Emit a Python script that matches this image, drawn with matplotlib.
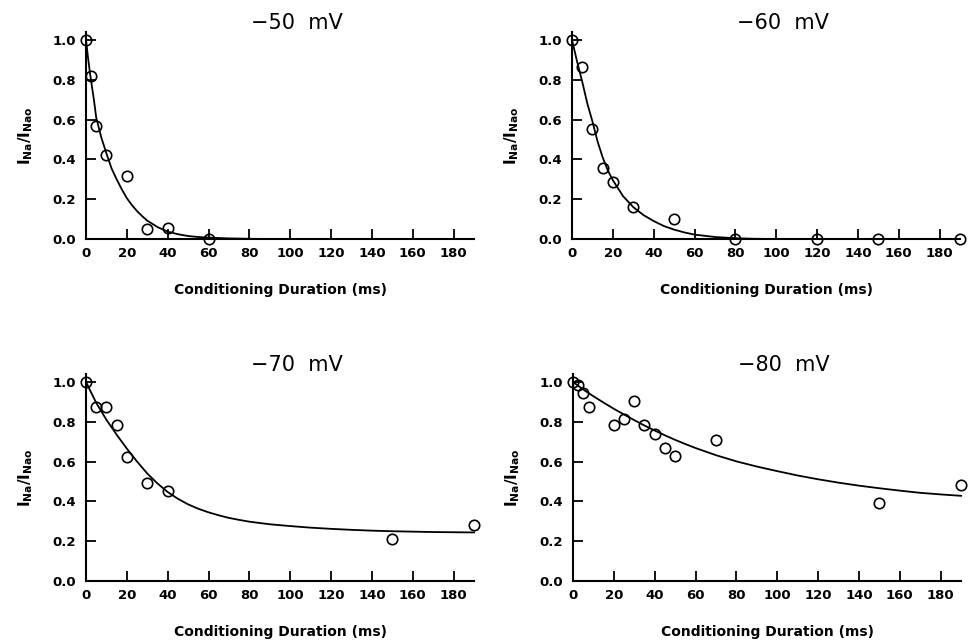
import numpy as np
import matplotlib
matplotlib.use('Agg')
import matplotlib.pyplot as plt

# measured points (conditioning duration in ms, I_Na/I_Nao)
x50 = [0, 2.5, 5, 10, 20, 30, 40, 60]
y50 = [1.0, 0.82, 0.57, 0.42, 0.315, 0.05, 0.055, 0.0]

x60 = [0, 5, 10, 15, 20, 30, 50, 80, 120, 150, 190]
y60 = [1.0, 0.865, 0.555, 0.355, 0.285, 0.16, 0.10, 0.0, 0.0, 0.0, 0.0]

x70 = [0, 5, 10, 15, 20, 30, 40, 150, 190]
y70 = [1.0, 0.875, 0.875, 0.785, 0.625, 0.49, 0.45, 0.21, 0.28]

x80 = [0, 2.5, 5, 8, 20, 25, 30, 35, 40, 45, 50, 70, 150, 190]
y80 = [1.0, 0.985, 0.945, 0.875, 0.785, 0.815, 0.905, 0.785, 0.74, 0.67, 0.63, 0.71, 0.39, 0.48]

# fitted curves
cx50 = [0, 1, 2, 3, 4, 5, 7.5, 10, 12.5, 15, 17.5, 20, 22.5, 25, 27.5, 30, 35, 40, 45,
        50, 55, 60, 70, 80, 90, 190]
cy50 = [1.0, 0.91, 0.83, 0.76, 0.69, 0.61, 0.51, 0.43, 0.355, 0.30, 0.25, 0.205, 0.17,
        0.14, 0.115, 0.092, 0.06, 0.037, 0.024, 0.015, 0.01, 0.007, 0.003, 0.001, 0.0, 0.0]

cx60 = [0, 2.5, 5, 7.5, 10, 12.5, 15, 17.5, 20, 25, 30, 35, 40, 45, 50, 55, 60, 70, 80,
        90, 100, 190]
cy60 = [1.0, 0.89, 0.79, 0.68, 0.59, 0.49, 0.41, 0.345, 0.295, 0.215, 0.16, 0.12, 0.09,
        0.065, 0.047, 0.033, 0.022, 0.01, 0.004, 0.001, 0.0, 0.0]

cx70 = [0, 5, 10, 15, 20, 25, 30, 35, 40, 45, 50, 55, 60, 65, 70, 75, 80, 90, 100, 110,
        120, 130, 140, 150, 160, 170, 180, 190]
cy70 = [1.0, 0.895, 0.81, 0.735, 0.665, 0.60, 0.54, 0.49, 0.447, 0.413, 0.385, 0.363,
        0.345, 0.330, 0.317, 0.307, 0.298, 0.285, 0.276, 0.268, 0.262, 0.257, 0.253,
        0.250, 0.248, 0.246, 0.245, 0.244]

cx80 = [0, 5, 10, 15, 20, 25, 30, 35, 40, 45, 50, 55, 60, 70, 80, 90, 100, 110, 120,
        130, 140, 150, 160, 170, 180, 190]
cy80 = [1.0, 0.962, 0.928, 0.896, 0.865, 0.836, 0.808, 0.781, 0.756, 0.732, 0.709,
        0.688, 0.668, 0.632, 0.601, 0.575, 0.552, 0.530, 0.511, 0.494, 0.479, 0.466,
        0.454, 0.443, 0.435, 0.428]

titles = ['\u221250  mV', '\u221260  mV', '\u221270  mV', '\u221280  mV']
xticks = [0, 20, 40, 60, 80, 100, 120, 140, 160, 180]
yticks = [0.0, 0.2, 0.4, 0.6, 0.8, 1.0]

fig = plt.figure(figsize=(9.75, 6.43), dpi=100)

# left, bottom of each panel in figure fractions
boxes = [(0.0882, 0.6283), (0.5867, 0.6283), (0.0882, 0.0964), (0.5877, 0.0964)]
points = [(x50, y50), (x60, y60), (x70, y70), (x80, y80)]
curves = [(cx50, cy50), (cx60, cy60), (cx70, cy70), (cx80, cy80)]

for i in range(4):
    ax = fig.add_axes([boxes[i][0], boxes[i][1], 0.398, 0.322])
    ax.plot(curves[i][0], curves[i][1], color='black', lw=1.3, clip_on=False)
    ax.plot(points[i][0], points[i][1], 'o', mfc='none', mec='black', ms=7.5,
            mew=1.2, clip_on=False, zorder=3)
    ax.set_xlim(0, 190)
    ax.set_ylim(0, 1.04)
    ax.set_xticks(xticks)
    ax.set_yticks(yticks)
    ax.set_yticklabels(['%.1f' % v for v in yticks])
    ax.spines['top'].set_visible(False)
    ax.spines['right'].set_visible(False)
    ax.spines['left'].set_linewidth(1.5)
    ax.spines['bottom'].set_linewidth(1.5)
    ax.tick_params(direction='in', length=7, width=1.3, labelsize=9.5)
    ax.tick_params(axis='x', pad=6)
    ax.tick_params(axis='y', pad=7)
    for lab in ax.get_xticklabels() + ax.get_yticklabels():
        lab.set_fontweight('bold')
    ax.set_xlabel('Conditioning Duration (ms)', fontsize=10, fontweight='bold', labelpad=16)
    ax.set_ylabel(r'$\mathbf{I_{Na}/I_{Nao}}$', fontsize=11, labelpad=13)
    ax.text(0.544, 1.045, titles[i], transform=ax.transAxes, ha='center', va='center',
            fontsize=15)

fig.savefig('out.png', dpi=100)
